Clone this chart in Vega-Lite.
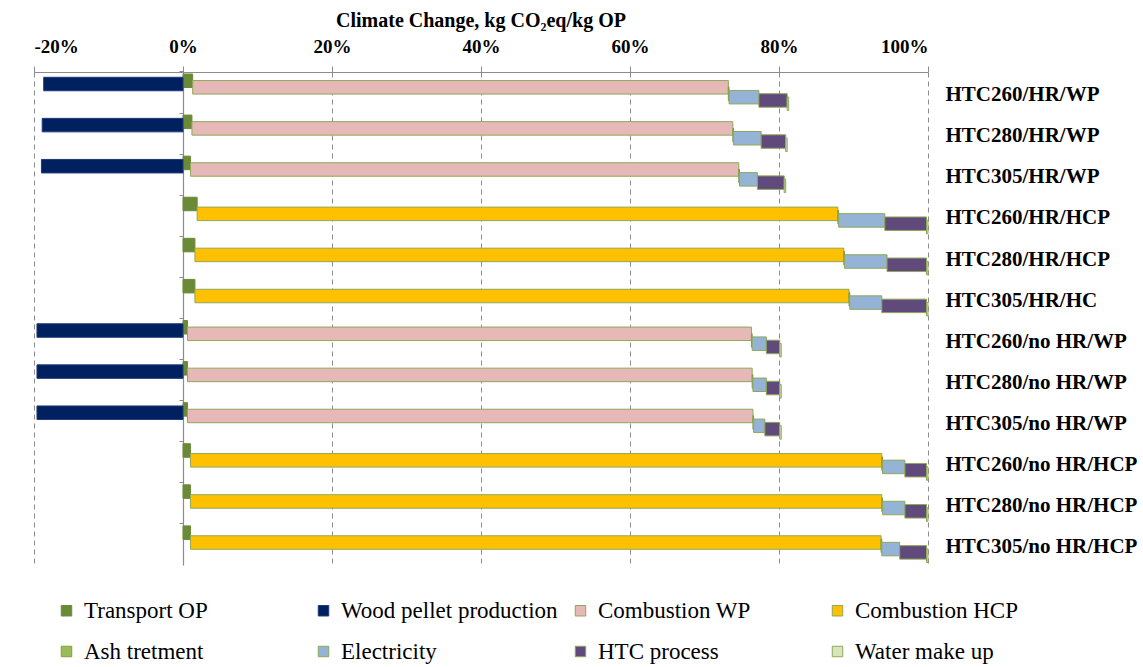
{
  "$schema": "https://vega.github.io/schema/vega-lite/v6.json",
  "width": 894,
  "height": 493,
  "autosize": {"type": "none"},
  "padding": {"left": 34, "top": 72, "right": 215, "bottom": 102},
  "background": "white",
  "title": {"text": "Climate Change, kg CO₂eq/kg OP", "font": "Liberation Serif", "fontSize": 20, "fontWeight": "bold", "color": "black", "anchor": "middle", "offset": 6},
  "data": {"values": [
    {"row": "HTC260/HR/WP", "series": "Transport OP", "start": 0, "end": 1.3},
    {"row": "HTC260/HR/WP", "series": "Wood pellet production", "start": 0, "end": -18.7},
    {"row": "HTC260/HR/WP", "series": "Combustion WP", "start": 1.3, "end": 73.2},
    {"row": "HTC260/HR/WP", "series": "Ash tretment", "start": 73.2, "end": 73.3},
    {"row": "HTC260/HR/WP", "series": "Electricity", "start": 73.3, "end": 77.3},
    {"row": "HTC260/HR/WP", "series": "HTC process", "start": 77.3, "end": 81.1},
    {"row": "HTC260/HR/WP", "series": "Water make up", "start": 81.1, "end": 81.3},

    {"row": "HTC280/HR/WP", "series": "Transport OP", "start": 0, "end": 1.2},
    {"row": "HTC280/HR/WP", "series": "Wood pellet production", "start": 0, "end": -18.9},
    {"row": "HTC280/HR/WP", "series": "Combustion WP", "start": 1.2, "end": 73.8},
    {"row": "HTC280/HR/WP", "series": "Ash tretment", "start": 73.8, "end": 73.9},
    {"row": "HTC280/HR/WP", "series": "Electricity", "start": 73.9, "end": 77.6},
    {"row": "HTC280/HR/WP", "series": "HTC process", "start": 77.6, "end": 80.9},
    {"row": "HTC280/HR/WP", "series": "Water make up", "start": 80.9, "end": 81.1},

    {"row": "HTC305/HR/WP", "series": "Transport OP", "start": 0, "end": 1.0},
    {"row": "HTC305/HR/WP", "series": "Wood pellet production", "start": 0, "end": -19.0},
    {"row": "HTC305/HR/WP", "series": "Combustion WP", "start": 1.0, "end": 74.6},
    {"row": "HTC305/HR/WP", "series": "Ash tretment", "start": 74.6, "end": 74.7},
    {"row": "HTC305/HR/WP", "series": "Electricity", "start": 74.7, "end": 77.1},
    {"row": "HTC305/HR/WP", "series": "HTC process", "start": 77.1, "end": 80.7},
    {"row": "HTC305/HR/WP", "series": "Water make up", "start": 80.7, "end": 80.9},

    {"row": "HTC260/HR/HCP", "series": "Transport OP", "start": 0, "end": 1.9},
    {"row": "HTC260/HR/HCP", "series": "Combustion HCP", "start": 1.9, "end": 87.9},
    {"row": "HTC260/HR/HCP", "series": "Ash tretment", "start": 87.9, "end": 88.0},
    {"row": "HTC260/HR/HCP", "series": "Electricity", "start": 88.0, "end": 94.2},
    {"row": "HTC260/HR/HCP", "series": "HTC process", "start": 94.2, "end": 99.8},
    {"row": "HTC260/HR/HCP", "series": "Water make up", "start": 99.8, "end": 100},

    {"row": "HTC280/HR/HCP", "series": "Transport OP", "start": 0, "end": 1.6},
    {"row": "HTC280/HR/HCP", "series": "Combustion HCP", "start": 1.6, "end": 88.7},
    {"row": "HTC280/HR/HCP", "series": "Ash tretment", "start": 88.7, "end": 88.8},
    {"row": "HTC280/HR/HCP", "series": "Electricity", "start": 88.8, "end": 94.5},
    {"row": "HTC280/HR/HCP", "series": "HTC process", "start": 94.5, "end": 99.8},
    {"row": "HTC280/HR/HCP", "series": "Water make up", "start": 99.8, "end": 100},

    {"row": "HTC305/HR/HC", "series": "Transport OP", "start": 0, "end": 1.6},
    {"row": "HTC305/HR/HC", "series": "Combustion HCP", "start": 1.6, "end": 89.4},
    {"row": "HTC305/HR/HC", "series": "Ash tretment", "start": 89.4, "end": 89.5},
    {"row": "HTC305/HR/HC", "series": "Electricity", "start": 89.5, "end": 93.8},
    {"row": "HTC305/HR/HC", "series": "HTC process", "start": 93.8, "end": 99.8},
    {"row": "HTC305/HR/HC", "series": "Water make up", "start": 99.8, "end": 100},

    {"row": "HTC260/no HR/WP", "series": "Transport OP", "start": 0, "end": 0.6},
    {"row": "HTC260/no HR/WP", "series": "Wood pellet production", "start": 0, "end": -19.6},
    {"row": "HTC260/no HR/WP", "series": "Combustion WP", "start": 0.6, "end": 76.3},
    {"row": "HTC260/no HR/WP", "series": "Ash tretment", "start": 76.3, "end": 76.4},
    {"row": "HTC260/no HR/WP", "series": "Electricity", "start": 76.4, "end": 78.3},
    {"row": "HTC260/no HR/WP", "series": "HTC process", "start": 78.3, "end": 80.1},
    {"row": "HTC260/no HR/WP", "series": "Water make up", "start": 80.1, "end": 80.3},

    {"row": "HTC280/no HR/WP", "series": "Transport OP", "start": 0, "end": 0.6},
    {"row": "HTC280/no HR/WP", "series": "Wood pellet production", "start": 0, "end": -19.6},
    {"row": "HTC280/no HR/WP", "series": "Combustion WP", "start": 0.6, "end": 76.4},
    {"row": "HTC280/no HR/WP", "series": "Ash tretment", "start": 76.4, "end": 76.5},
    {"row": "HTC280/no HR/WP", "series": "Electricity", "start": 76.5, "end": 78.3},
    {"row": "HTC280/no HR/WP", "series": "HTC process", "start": 78.3, "end": 80.1},
    {"row": "HTC280/no HR/WP", "series": "Water make up", "start": 80.1, "end": 80.3},

    {"row": "HTC305/no HR/WP", "series": "Transport OP", "start": 0, "end": 0.6},
    {"row": "HTC305/no HR/WP", "series": "Wood pellet production", "start": 0, "end": -19.6},
    {"row": "HTC305/no HR/WP", "series": "Combustion WP", "start": 0.6, "end": 76.5},
    {"row": "HTC305/no HR/WP", "series": "Ash tretment", "start": 76.5, "end": 76.6},
    {"row": "HTC305/no HR/WP", "series": "Electricity", "start": 76.6, "end": 78.1},
    {"row": "HTC305/no HR/WP", "series": "HTC process", "start": 78.1, "end": 80.1},
    {"row": "HTC305/no HR/WP", "series": "Water make up", "start": 80.1, "end": 80.3},

    {"row": "HTC260/no HR/HCP", "series": "Transport OP", "start": 0, "end": 1.0},
    {"row": "HTC260/no HR/HCP", "series": "Combustion HCP", "start": 1.0, "end": 93.8},
    {"row": "HTC260/no HR/HCP", "series": "Ash tretment", "start": 93.8, "end": 93.9},
    {"row": "HTC260/no HR/HCP", "series": "Electricity", "start": 93.9, "end": 96.9},
    {"row": "HTC260/no HR/HCP", "series": "HTC process", "start": 96.9, "end": 99.8},
    {"row": "HTC260/no HR/HCP", "series": "Water make up", "start": 99.8, "end": 100},

    {"row": "HTC280/no HR/HCP", "series": "Transport OP", "start": 0, "end": 1.0},
    {"row": "HTC280/no HR/HCP", "series": "Combustion HCP", "start": 1.0, "end": 93.8},
    {"row": "HTC280/no HR/HCP", "series": "Ash tretment", "start": 93.8, "end": 93.9},
    {"row": "HTC280/no HR/HCP", "series": "Electricity", "start": 93.9, "end": 96.9},
    {"row": "HTC280/no HR/HCP", "series": "HTC process", "start": 96.9, "end": 99.8},
    {"row": "HTC280/no HR/HCP", "series": "Water make up", "start": 99.8, "end": 100},

    {"row": "HTC305/no HR/HCP", "series": "Transport OP", "start": 0, "end": 1.0},
    {"row": "HTC305/no HR/HCP", "series": "Combustion HCP", "start": 1.0, "end": 93.7},
    {"row": "HTC305/no HR/HCP", "series": "Ash tretment", "start": 93.7, "end": 93.8},
    {"row": "HTC305/no HR/HCP", "series": "Electricity", "start": 93.8, "end": 96.2},
    {"row": "HTC305/no HR/HCP", "series": "HTC process", "start": 96.2, "end": 99.8},
    {"row": "HTC305/no HR/HCP", "series": "Water make up", "start": 99.8, "end": 100}
  ]},
  "layer": [
    {
      "mark": {"type": "bar", "height": 13.5, "strokeWidth": 1},
      "encoding": {
        "y": {
          "field": "row", "type": "nominal", "sort": null,
          "scale": {"paddingInner": 0.36, "paddingOuter": 0.18, "align": 0.48},
          "axis": {"orient": "left", "offset": -149, "labels": false, "title": null, "ticks": true, "tickSize": 4, "bandPosition": -0.27, "domainColor": "#8c8c8c", "tickColor": "#8c8c8c", "domainWidth": 1.2, "grid": false}
        },
        "yOffset": {
          "field": "series", "type": "nominal",
          "scale": {"domain": ["Transport OP", "Wood pellet production", "Combustion WP", "Combustion HCP", "Ash tretment", "Electricity", "HTC process", "Water make up"], "paddingInner": 0, "paddingOuter": 0}
        },
        "x": {
          "field": "start", "type": "quantitative",
          "scale": {"domain": [-20, 100], "nice": false, "zero": false},
          "axis": {"orient": "top", "values": [-20, 0, 20, 40, 60, 80, 100], "labelExpr": "datum.value + '%'", "title": null, "grid": true, "gridDash": [5, 4], "gridColor": "#8c8c8c", "domainColor": "#8c8c8c", "tickColor": "#8c8c8c", "tickSize": 6, "labelPadding": 10, "labelFont": "Liberation Serif", "labelFontWeight": "bold", "labelFontSize": 19, "labelColor": "black"}
        },
        "x2": {"field": "end"},
        "fill": {
          "field": "series", "type": "nominal",
          "scale": {"domain": ["Transport OP", "Wood pellet production", "Combustion WP", "Combustion HCP", "Ash tretment", "Electricity", "HTC process", "Water make up"],
                    "range": ["#6A8A38", "#002060", "#E6B9B8", "#FFC000", "#9BBB59", "#95B3D7", "#604A7B", "#D7E4BD"]},
          "legend": {"title": null, "orient": "none", "direction": "horizontal", "legendX": 21, "legendY": 527, "columns": 4, "gridAlign": "all", "columnPadding": 11, "rowPadding": 17, "symbolType": "square", "symbolSize": 110, "symbolStrokeWidth": 1, "labelFont": "Liberation Serif", "labelFontSize": 23, "labelColor": "black", "labelLimit": 300, "labelOffset": 6}
        },
        "stroke": {
          "field": "series", "type": "nominal",
          "scale": {"domain": ["Transport OP", "Wood pellet production", "Combustion WP", "Combustion HCP", "Ash tretment", "Electricity", "HTC process", "Water make up"],
                    "range": ["#6A8A38", "#1F3A7A", "#8FA858", "#8FA858", "#7F9F45", "#8FA858", "#8FA858", "#8FA858"]},
          "legend": {"title": null, "orient": "none", "direction": "horizontal", "legendX": 21, "legendY": 527, "columns": 4, "gridAlign": "all", "columnPadding": 11, "rowPadding": 17, "symbolType": "square", "symbolSize": 110, "symbolStrokeWidth": 1, "labelFont": "Liberation Serif", "labelFontSize": 23, "labelColor": "black", "labelLimit": 300, "labelOffset": 6}
        }
      }
    },
    {
      "mark": {"type": "tick", "opacity": 0},
      "encoding": {
        "y": {
          "field": "row", "type": "nominal", "sort": null,
          "scale": {"paddingInner": 0.36, "paddingOuter": 0.18, "align": 0.48},
          "axis": {"orient": "right", "title": null, "ticks": false, "domain": false, "labelPadding": 17, "labelOffset": 3, "labelAlign": "left", "labelFont": "Liberation Serif", "labelFontWeight": "bold", "labelFontSize": 21, "labelColor": "black", "labelLimit": 300}
        },
        "x": {"field": "start", "type": "quantitative"}
      }
    }
  ],
  "resolve": {"axis": {"y": "independent"}},
  "config": {"view": {"stroke": null}}
}
